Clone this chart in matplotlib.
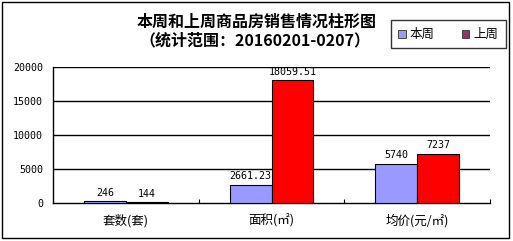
import numpy as np
import matplotlib.pyplot as plt
from matplotlib.patches import Patch, Rectangle

plt.rcParams['font.family'] = ['Noto Sans CJK SC', 'DejaVu Sans']

categories = ['套数(套)', '面积(㎡)', '均价(元/㎡)']
this_week = [246, 2661.23, 5740]
last_week = [144, 18059.51, 7237]
this_labels = ['246', '2661.23', '5740']
last_labels = ['144', '18059.51', '7237']
yticks = [0, 5000, 10000, 15000, 20000]

fig = plt.figure(figsize=(5.13, 2.41), dpi=100)
ax = fig.add_axes([53 / 513, 1 - 203 / 241, 437 / 513, 136 / 241])

x = np.arange(len(categories))
w = 0.288
b1 = ax.bar(x - w / 2, this_week, w, color='#9999FF', edgecolor='black', linewidth=0.8, zorder=3)
b2 = ax.bar(x + w / 2, last_week, w, color='#FF0000', edgecolor='black', linewidth=0.8, zorder=3)

for bars, labels in ((b1, this_labels), (b2, last_labels)):
    for rect, lab in zip(bars, labels):
        ax.annotate(lab, (rect.get_x() + rect.get_width() / 2, rect.get_height()),
                    xytext=(0, 2.5), textcoords='offset points', ha='center', va='bottom',
                    fontsize=7.2, family='DejaVu Sans Mono')

ax.set_xlim(-0.5, 2.5)
ax.set_ylim(0, 20000)
ax.set_yticks(yticks)
ax.set_yticklabels([str(v) for v in yticks], family='DejaVu Sans Mono', fontsize=7.2)
ax.tick_params(axis='y', length=0, pad=7)
for v in yticks[1:]:
    ax.axhline(v, color='black', linewidth=1, zorder=1)

ax.set_xticks([0.5, 1.5, 2.5])
ax.set_xticklabels([])
ax.tick_params(axis='x', which='major', direction='in', length=3, width=0.8)
ax.set_xticks(x, minor=True)
ax.set_xticklabels(categories, minor=True, fontsize=9)
ax.tick_params(axis='x', which='minor', length=0, pad=8)

ax.spines['top'].set_visible(False)
ax.spines['right'].set_visible(False)
ax.spines['left'].set_linewidth(1)
ax.spines['bottom'].set_linewidth(1)

fig.text(257 / 513, 1 - 22 / 241, '本周和上周商品房销售情况柱形图', ha='center', va='center',
         fontsize=11.5, fontweight='bold')
fig.text(255 / 513, 1 - 40 / 241, '（统计范围：20160201-0207）', ha='center', va='center',
         fontsize=11.5, fontweight='bold')

handles = [Patch(facecolor='#9999FF', edgecolor='#333333', linewidth=0.6),
           Patch(facecolor='#993366', edgecolor='#333333', linewidth=0.6)]
leg = fig.legend(handles, ['本周', '上周'], loc='center', bbox_to_anchor=(448 / 513, 1 - 34.5 / 241),
                 ncol=2, fontsize=9, frameon=True, fancybox=False, edgecolor='black',
                 handlelength=0.6, handleheight=0.6, handletextpad=0.3, columnspacing=2.2,
                 borderpad=0.6, borderaxespad=0)
leg.get_frame().set_linewidth(1)

fig.patches.append(Rectangle((2 / 513, 3 / 241), 507 / 513, 236 / 241, transform=fig.transFigure,
                             fill=False, edgecolor='black', linewidth=1))

fig.savefig('out.png', dpi=100)
